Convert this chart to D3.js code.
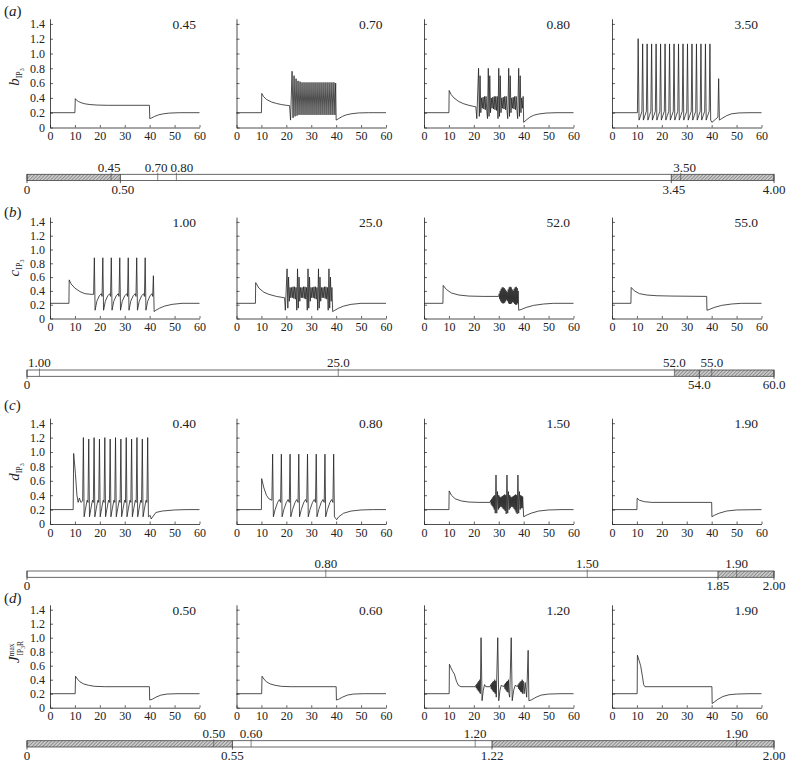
<!DOCTYPE html>
<html><head><meta charset="utf-8">
<script src="https://cdn.jsdelivr.net/npm/d3@7/dist/d3.min.js"></script>
<style>
body{margin:0;background:#fff}
text{font-family:"Liberation Serif","Times New Roman",Times,serif;fill:#222}
</style>
</head><body>
<svg id="chart" width="788" height="764"></svg>
<script>
// ---------- DATA ----------
const panelLetters = ["a","b","c","d"];
const paramLetters = ["b","c","d","J"];
const paramValues = [["0.45","0.70","0.80","3.50"],["1.00","25.0","52.0","55.0"],["0.40","0.80","1.50","1.90"],["0.50","0.60","1.20","1.90"]];
const xTicks = [0,10,20,30,40,50,60];
const yTicks = [0,0.2,0.4,0.6,0.8,1.0,1.2,1.4];
const yTickLabels = ["0","0.2","0.4","0.6","0.8","1.0","1.2","1.4"];

// range bars
const rangeDomains = [[0,4],[0,60],[0,2],[0,2]];
const hatchRanges = [[[0,0.5],[3.45,4]],[[52,60]],[[1.85,2]],[[0,0.55],[1.245,2]]];
const testedValues = [[0.45,0.70,0.80,3.50],[1.00,25.0,52.0,55.0],[0.80,1.50,1.90],[0.50,0.60,1.20,1.90]];
const testedLabels = [["0.45","0.70","0.80","3.50"],["1.00","25.0","52.0","55.0"],["0.80","1.50","1.90"],["0.50","0.60","1.20","1.90"]];
const boundValues = [[0,0.5,3.45,4],[0,54,60],[0,1.85,2],[0,0.55,1.245,2]];
const boundLabels = [["0","0.50","3.45","4.00"],["0","54.0","60.0"],["0","1.85","2.00"],["0","0.55","1.22","2.00"]];

// traces [t, value]
const trA1 = [[0,0.2],[10,0.2],[10.15,0.39],[10.6,0.37],[11.5,0.35],[12.5,0.335],[14,0.32],[16,0.31],[19,0.303],[23,0.3],[39.9,0.3],[40.05,0.12],[40.8,0.13],[42,0.15],[43.5,0.17],[45.5,0.185],[48,0.195],[52,0.2],[60,0.2]];
const trA2 = [[0,0.2],[10,0.2],[10.15,0.46],[10.8,0.42],[12,0.38],[14,0.345],[16,0.325],[18,0.31],[20,0.3],[21.3,0.295],[21.7,0.1],[22.3,0.76],[22.7,0.13],[23.1,0.7],[23.5,0.15],[23.9,0.66],[24.3,0.16],[24.7,0.63],[25.1,0.17],[25.5,0.62],[25.9,0.17],[26.3,0.61],[26.7,0.17],[27.1,0.61],[27.5,0.17],[27.9,0.61],[28.3,0.17],[28.7,0.61],[29.1,0.17],[29.5,0.61],[29.9,0.17],[30.3,0.61],[30.7,0.17],[31.1,0.61],[31.5,0.17],[31.9,0.61],[32.3,0.17],[32.7,0.61],[33.1,0.17],[33.5,0.61],[33.9,0.17],[34.3,0.61],[34.7,0.17],[35.1,0.61],[35.5,0.17],[35.9,0.61],[36.3,0.17],[36.7,0.61],[37.1,0.17],[37.5,0.61],[37.9,0.17],[38.3,0.61],[38.7,0.17],[39.1,0.61],[39.5,0.17],[39.8,0.6],[40.0,0.1],[41,0.12],[42.5,0.15],[44,0.17],[46,0.185],[49,0.197],[53,0.2],[60,0.2]];
const trA3 = [[0,0.2],[10,0.2],[10.1,0.5],[10.8,0.45],[12,0.4],[14,0.35],[16,0.32],[18,0.3],[20,0.285],[20.8,0.28],[21.2,0.12],[21.9,0.8],[22.2,0.15],[22.5,0.7],[22.8,0.2],[23.1,0.4],[23.4,0.26],[23.7,0.41],[24.0,0.25],[24.3,0.42],[24.6,0.24],[24.9,0.42],[25.2,0.22],[25.5,0.12],[25.8,0.8],[26.1,0.15],[26.4,0.7],[26.7,0.2],[27.0,0.4],[27.3,0.26],[27.6,0.41],[27.9,0.25],[28.2,0.42],[28.5,0.24],[28.8,0.42],[29.1,0.23],[29.4,0.42],[29.7,0.12],[30.0,0.8],[30.3,0.15],[30.6,0.7],[30.9,0.2],[31.2,0.4],[31.5,0.26],[31.8,0.41],[32.1,0.25],[32.4,0.42],[32.7,0.24],[33.0,0.42],[33.3,0.23],[33.6,0.12],[34.0,0.8],[34.3,0.15],[34.6,0.7],[34.9,0.2],[35.2,0.4],[35.5,0.26],[35.8,0.41],[36.1,0.25],[36.4,0.42],[36.7,0.24],[37.0,0.42],[37.3,0.23],[37.6,0.12],[38.0,0.8],[38.3,0.15],[38.6,0.7],[38.9,0.2],[39.2,0.4],[39.5,0.26],[39.8,0.42],[40.0,0.07],[41,0.1],[42.5,0.14],[44,0.165],[46,0.182],[49,0.195],[53,0.2],[60,0.2]];
const trA4 = [[0,0.2],[10.2,0.2],[10.5,1.2],[10.85,0.1],[11.4,0.15],[12.0,0.22],[12.3,1.13],[12.6,0.1],[13.2,0.16],[13.8,0.22],[14.1,1.13],[14.4,0.1],[15.0,0.16],[15.6,0.22],[15.9,1.13],[16.2,0.1],[16.8,0.16],[17.4,0.22],[17.7,1.13],[18.0,0.1],[18.6,0.16],[19.2,0.22],[19.5,1.13],[19.8,0.1],[20.4,0.16],[21.0,0.22],[21.3,1.13],[21.6,0.1],[22.2,0.16],[22.8,0.22],[23.1,1.13],[23.4,0.1],[24.0,0.16],[24.6,0.22],[24.9,1.13],[25.2,0.1],[25.8,0.16],[26.4,0.22],[26.7,1.13],[27.0,0.1],[27.6,0.16],[28.2,0.22],[28.5,1.13],[28.8,0.1],[29.4,0.16],[30.0,0.22],[30.3,1.13],[30.6,0.1],[31.2,0.16],[31.8,0.22],[32.1,1.13],[32.4,0.1],[33.0,0.16],[33.6,0.22],[33.9,1.13],[34.2,0.1],[34.8,0.16],[35.4,0.22],[35.7,1.13],[36.0,0.1],[36.6,0.16],[37.2,0.22],[37.5,1.13],[37.8,0.1],[38.4,0.16],[39.0,0.22],[39.3,1.13],[39.6,0.1],[40.1,0.07],[41.5,0.11],[42.5,0.14],[42.8,0.66],[43.1,0.1],[44,0.12],[46,0.16],[48,0.185],[51,0.197],[55,0.2],[60,0.2]];

const trB1 = [[0,0.22],[7.6,0.22],[7.7,0.56],[8.5,0.5],[10,0.44],[12,0.39],[14,0.36],[16.5,0.35],[17.5,0.35],[17.8,0.88],[18.1,0.12],[18.8,0.25],[19.8,0.33],[20.6,0.36],[20.9,0.32],[21.2,0.88],[21.5,0.12],[22.2,0.25],[23.2,0.33],[24.0,0.36],[24.3,0.32],[24.6,0.88],[24.9,0.12],[25.6,0.25],[26.6,0.33],[27.4,0.36],[27.7,0.32],[28.0,0.88],[28.3,0.12],[29.0,0.25],[30.0,0.33],[30.8,0.36],[31.1,0.32],[31.4,0.88],[31.7,0.12],[32.4,0.25],[33.4,0.33],[34.2,0.36],[34.5,0.32],[34.8,0.88],[35.1,0.12],[35.8,0.25],[36.8,0.33],[37.6,0.36],[37.9,0.32],[38.2,0.88],[38.5,0.12],[39.2,0.25],[40.2,0.33],[40.9,0.36],[41.2,0.32],[41.5,0.62],[41.8,0.1],[42.5,0.12],[44,0.15],[46,0.18],[49,0.205],[53,0.22],[60,0.22]];
const trB2 = [[0,0.22],[7.6,0.22],[7.7,0.52],[9,0.44],[11,0.38],[13,0.35],[16,0.32],[19.3,0.3],[19.6,0.12],[20.3,0.72],[20.6,0.15],[20.9,0.6],[21.2,0.25],[21.5,0.45],[21.8,0.3],[22.1,0.45],[22.4,0.3],[22.7,0.46],[23.0,0.29],[23.3,0.46],[23.6,0.28],[23.9,0.45],[24.2,0.12],[24.5,0.72],[24.8,0.15],[25.1,0.6],[25.4,0.25],[25.7,0.45],[26.0,0.3],[26.3,0.45],[26.6,0.3],[26.9,0.46],[27.2,0.29],[27.5,0.46],[27.8,0.28],[28.1,0.45],[28.4,0.12],[28.7,0.72],[29.0,0.15],[29.3,0.6],[29.6,0.25],[29.9,0.45],[30.2,0.3],[30.5,0.45],[30.8,0.3],[31.1,0.46],[31.4,0.29],[31.7,0.46],[32.0,0.28],[32.3,0.45],[32.6,0.12],[32.9,0.72],[33.2,0.15],[33.5,0.6],[33.8,0.25],[34.1,0.45],[34.4,0.3],[34.7,0.45],[35.0,0.3],[35.3,0.46],[35.6,0.29],[35.9,0.46],[36.2,0.28],[36.5,0.45],[36.8,0.12],[37.1,0.72],[37.4,0.15],[37.7,0.6],[38.0,0.25],[38.3,0.45],[38.6,0.1],[39.5,0.12],[41,0.15],[43,0.18],[46,0.205],[50,0.22],[60,0.22]];
const trB3 = [[0,0.22],[7.6,0.22],[7.7,0.48],[9,0.42],[11,0.37],[14,0.34],[18,0.325],[24,0.32],[30,0.32],[30.2,0.36],[30.4,0.28],[30.6,0.4],[30.8,0.25],[31.0,0.43],[31.2,0.23],[31.4,0.45],[31.6,0.22],[31.8,0.45],[32.0,0.22],[32.2,0.44],[32.4,0.23],[32.6,0.42],[32.8,0.25],[33.0,0.4],[33.2,0.27],[33.4,0.38],[33.6,0.25],[33.8,0.42],[34.0,0.22],[34.2,0.45],[34.4,0.21],[34.6,0.46],[34.8,0.21],[35.0,0.45],[35.2,0.22],[35.4,0.42],[35.6,0.24],[35.8,0.4],[36.0,0.23],[36.2,0.43],[36.4,0.21],[36.6,0.45],[36.8,0.2],[37.0,0.46],[37.2,0.2],[37.4,0.44],[37.6,0.22],[37.8,0.4],[38.0,0.12],[39,0.13],[41,0.16],[44,0.19],[48,0.21],[52,0.22],[60,0.22]];
const trB4 = [[0,0.22],[7.6,0.22],[7.7,0.45],[9,0.4],[11,0.36],[14,0.34],[18,0.33],[24,0.325],[38,0.32],[38.1,0.12],[39,0.13],[41,0.16],[44,0.19],[48,0.21],[52,0.22],[60,0.22]];

const trC1 = [[0,0.2],[9.3,0.2],[9.5,0.98],[10.2,0.7],[10.8,0.4],[11.3,0.3],[11.8,0.36],[12.4,0.3],[13.1,0.32],[13.4,1.2],[13.7,0.1],[14.3,0.22],[14.9,0.33],[15.25,0.3],[15.55,1.18],[15.85,0.1],[16.45,0.22],[17.05,0.33],[17.4,0.3],[17.7,1.2],[18.0,0.1],[18.6,0.22],[19.2,0.33],[19.55,0.3],[19.85,1.18],[20.15,0.1],[20.75,0.22],[21.35,0.33],[21.7,0.3],[22.0,1.2],[22.3,0.1],[22.9,0.22],[23.5,0.33],[23.85,0.3],[24.15,1.18],[24.45,0.1],[25.05,0.22],[25.65,0.33],[26.0,0.3],[26.3,1.2],[26.6,0.1],[27.2,0.22],[27.8,0.33],[28.15,0.3],[28.45,1.18],[28.75,0.1],[29.35,0.22],[29.95,0.33],[30.3,0.3],[30.6,1.2],[30.9,0.1],[31.5,0.22],[32.1,0.33],[32.45,0.3],[32.75,1.18],[33.05,0.1],[33.65,0.22],[34.25,0.33],[34.6,0.3],[34.9,1.2],[35.2,0.1],[35.8,0.22],[36.4,0.33],[36.75,0.3],[37.05,1.18],[37.35,0.1],[37.95,0.22],[38.55,0.33],[38.9,0.3],[39.2,1.2],[39.5,0.1],[40.2,0.12],[40.6,0.07],[42.5,0.16],[45,0.18],[50,0.195],[55,0.2],[60,0.2]];
const trC2 = [[0,0.2],[10,0.2],[10.1,0.63],[11,0.5],[12,0.4],[13,0.35],[14.2,0.33],[14.5,0.97],[14.8,0.1],[15.5,0.2],[16.5,0.3],[17.2,0.34],[17.7,0.3],[18.0,0.97],[18.3,0.1],[19.0,0.2],[20.0,0.3],[20.7,0.34],[21.2,0.3],[21.5,0.97],[21.8,0.1],[22.5,0.2],[23.5,0.3],[24.2,0.34],[24.7,0.3],[25.0,0.97],[25.3,0.1],[26.0,0.2],[27.0,0.3],[27.7,0.34],[28.2,0.3],[28.5,0.97],[28.8,0.1],[29.5,0.2],[30.5,0.3],[31.2,0.34],[31.7,0.3],[32.0,0.97],[32.3,0.1],[33.0,0.2],[34.0,0.3],[34.7,0.34],[35.2,0.3],[35.5,0.97],[35.8,0.1],[36.5,0.2],[37.5,0.3],[38.2,0.34],[38.7,0.3],[39.0,0.97],[39.3,0.1],[40.2,0.06],[41,0.1],[43,0.15],[46,0.18],[50,0.195],[55,0.2],[60,0.2]];
const trC3 = [[0,0.2],[10,0.2],[10.1,0.46],[11,0.4],[12.5,0.35],[15,0.32],[18,0.305],[22,0.3],[26.5,0.3],[26.8,0.33],[27.0,0.27],[27.2,0.35],[27.4,0.25],[27.6,0.37],[27.8,0.23],[28.0,0.39],[28.2,0.2],[28.4,0.4],[28.6,0.15],[28.9,0.68],[29.2,0.15],[29.5,0.45],[29.8,0.2],[30.0,0.4],[30.2,0.22],[30.4,0.38],[30.6,0.24],[30.8,0.37],[31.0,0.24],[31.2,0.38],[31.4,0.23],[31.6,0.39],[31.8,0.21],[32.0,0.4],[32.2,0.2],[32.4,0.41],[32.6,0.18],[32.8,0.4],[33.0,0.14],[33.3,0.68],[33.6,0.15],[33.9,0.45],[34.2,0.2],[34.4,0.4],[34.6,0.22],[34.8,0.38],[35.0,0.24],[35.2,0.37],[35.4,0.24],[35.6,0.38],[35.8,0.23],[36.0,0.39],[36.2,0.21],[36.4,0.4],[36.6,0.19],[36.8,0.41],[37.0,0.16],[37.2,0.4],[37.4,0.14],[37.7,0.68],[38.0,0.15],[38.3,0.45],[38.6,0.2],[38.8,0.4],[39.0,0.22],[39.2,0.39],[39.4,0.22],[39.6,0.38],[39.8,0.24],[40.0,0.1],[41,0.12],[43,0.15],[46,0.18],[50,0.195],[55,0.2],[60,0.2]];
const trC4 = [[0,0.2],[10,0.2],[10.1,0.36],[11,0.33],[13,0.31],[16,0.3],[40,0.3],[40.1,0.1],[41,0.12],[43,0.15],[46,0.18],[50,0.195],[60,0.2]];

const trD1 = [[0,0.2],[10.1,0.2],[10.25,0.45],[11,0.41],[12,0.37],[13.5,0.34],[15.5,0.32],[18,0.305],[22,0.3],[39.9,0.3],[40.0,0.11],[41,0.12],[42.5,0.15],[44.5,0.18],[47,0.195],[51,0.2],[60,0.2]];
const trD2 = [[0,0.2],[10.1,0.2],[10.25,0.45],[11,0.41],[12,0.37],[13.5,0.34],[15.5,0.32],[18,0.305],[22,0.3],[40.0,0.3],[40.1,0.11],[41,0.12],[42.5,0.15],[44.5,0.18],[47,0.195],[51,0.2],[60,0.2]];
const trD3 = [[0,0.2],[10.1,0.2],[10.2,0.62],[10.8,0.57],[11.5,0.52],[12.2,0.48],[13,0.38],[13.8,0.32],[14.8,0.3],[20.5,0.3],[20.8,0.32],[21.0,0.28],[21.2,0.34],[21.4,0.26],[21.6,0.36],[21.8,0.24],[22.0,0.38],[22.2,0.22],[22.4,0.4],[22.6,0.2],[22.9,1.0],[23.3,0.1],[23.8,0.25],[24.3,0.33],[24.8,0.3],[26.5,0.3],[26.8,0.33],[27.0,0.27],[27.2,0.35],[27.4,0.25],[27.6,0.37],[27.8,0.23],[28.0,0.38],[28.2,0.22],[28.4,0.4],[28.6,0.2],[28.8,0.38],[29.0,0.15],[29.6,1.0],[30.0,0.1],[30.5,0.25],[31.0,0.32],[32.0,0.3],[32.3,0.33],[32.5,0.27],[32.7,0.35],[32.9,0.25],[33.1,0.37],[33.3,0.23],[33.5,0.38],[33.7,0.22],[33.9,0.4],[34.1,0.2],[34.4,0.15],[35.0,1.0],[35.4,0.1],[36.0,0.25],[36.6,0.32],[37.5,0.3],[37.8,0.33],[38.0,0.27],[38.2,0.35],[38.4,0.25],[38.6,0.37],[38.8,0.23],[39.0,0.38],[39.2,0.22],[39.4,0.4],[39.6,0.2],[39.8,0.38],[40.2,0.2],[40.6,0.36],[41.2,0.15],[41.8,0.82],[42.1,0.1],[43,0.11],[45,0.15],[47,0.18],[50,0.195],[55,0.2],[60,0.2]];
const trD4 = [[0,0.2],[10.1,0.2],[10.2,0.75],[10.8,0.68],[11.5,0.6],[12.2,0.45],[12.7,0.33],[13.2,0.3],[40.1,0.3],[40.2,0.06],[41,0.08],[42.5,0.12],[44.5,0.16],[47,0.185],[50,0.195],[55,0.2],[60,0.2]];

const traces = [[trA1,trA2,trA3,trA4],[trB1,trB2,trB3,trB4],[trC1,trC2,trC3,trC4],[trD1,trD2,trD3,trD4]];

// ---------- LAYOUT ----------
const svg = d3.select("#chart");
const ink = "#222";
const fontFam = '"Liberation Serif","Times New Roman",Times,serif';
const colX = [50, 236.5, 424, 612];
const plotW = 149.5;
const rowGeom = [
  {y0:127.5, ppu:74, label:11, title:77},
  {y0:318.5, ppu:69, label:212, title:268},
  {y0:524, ppu:72, label:405, title:472},
  {y0:707.7, ppu:70, label:598, title:652}
];
const barTops = [174.3, 370, 571, 740.7];
const barH = 6.3, barX0 = 27, barX1 = 774;
// horizontal nudges of bar labels (layout only)
const testedDx = [[-2,-1.5,5.5,4],[0,0,0,0],[0,0,0],[0,0,0,0]];
const boundDx = [[0,2.5,2.5,0],[0,0,0],[0,0,0],[0,0,0,0]];

const defs = svg.append("defs");
const pat = defs.append("pattern").attr("id","hatch").attr("patternUnits","userSpaceOnUse")
  .attr("width",2.5).attr("height",2.5).attr("patternTransform","rotate(45)");
pat.append("rect").attr("width",2.5).attr("height",2.5).attr("fill","#d0d0d0");
pat.append("line").attr("x1",0.5).attr("y1",0).attr("x2",0.5).attr("y2",2.5).attr("stroke","#8a8a8a").attr("stroke-width",1);

const lineGen = d3.line();

rowGeom.forEach((rg, r) => {
  const yTop = 1.47;
  const y = d3.scaleLinear().domain([0, yTop]).range([rg.y0, rg.y0 - yTop*rg.ppu]);
  const pl = svg.append("text").attr("x",4).attr("y",rg.label+5).style("font-size","15px");
  pl.append("tspan").text("(");
  pl.append("tspan").style("font-style","italic").text(panelLetters[r]);
  pl.append("tspan").text(")");
  const tt = svg.append("text").attr("transform",`translate(19,${rg.title}) rotate(-90)`)
    .attr("text-anchor","middle").style("font-size","15px");
  if (paramLetters[r] === "J") {
    tt.append("tspan").style("font-style","italic").text("J");
    tt.append("tspan").attr("dy",-5).style("font-size","7.5px").text("max");
    tt.append("tspan").attr("dx",-12).attr("dy",9).style("font-size","7.5px").text("IP");
    tt.append("tspan").attr("dy",2).style("font-size","5.5px").text("3");
    tt.append("tspan").attr("dy",-2).style("font-size","7.5px").text("R");
  } else {
    tt.append("tspan").style("font-style","italic").text(paramLetters[r]);
    tt.append("tspan").attr("dy",3).style("font-size","8px").text("IP");
    tt.append("tspan").attr("dy",2).style("font-size","6px").text("3");
  }

  colX.forEach((x0, c) => {
    const x = d3.scaleLinear().domain([0,60]).range([x0, x0+plotW]);
    const g = svg.append("g");
    const ya = d3.axisLeft(y).tickValues(yTicks).tickSize(-3).tickSizeOuter(0).tickPadding(5)
      .tickFormat((d,i) => c === 0 ? yTickLabels[i] : "");
    const gy = g.append("g").attr("transform",`translate(${x0},0)`).call(ya);
    const xa = d3.axisBottom(x).tickValues(xTicks).tickSize(-2.5).tickSizeOuter(0).tickPadding(4);
    const gx = g.append("g").attr("transform",`translate(0,${rg.y0})`).call(xa);
    [gy,gx].forEach(a => {
      a.attr("font-family", fontFam);
      a.select(".domain").attr("stroke",ink).attr("stroke-width",0.8);
      a.selectAll(".tick line").attr("stroke",ink).attr("stroke-width",0.7);
      a.selectAll(".tick text").attr("fill",ink).style("font-size","12px")
        .style("font-family",fontFam);
    });
    g.append("path").datum(traces[r][c])
      .attr("d", lineGen.x(d => x(d[0])).y(d => y(d[1])))
      .attr("fill","none").attr("stroke",ink).attr("stroke-width",0.8).attr("stroke-linejoin","round");
    g.append("text").attr("x", x0+146).attr("y", y(1.4)+5).attr("text-anchor","end")
      .style("font-size","13.5px").text(paramValues[r][c]);
  });

  const s = d3.scaleLinear().domain(rangeDomains[r]).range([barX0, barX1]);
  const top = barTops[r];
  const gb = svg.append("g");
  gb.append("rect").attr("x",barX0).attr("y",top).attr("width",barX1-barX0).attr("height",barH)
    .attr("fill","#fff");
  hatchRanges[r].forEach(([a,b]) => {
    gb.append("rect").attr("x",s(a)).attr("y",top).attr("width",s(b)-s(a)).attr("height",barH)
      .attr("fill","url(#hatch)");
  });
  gb.append("rect").attr("x",barX0).attr("y",top).attr("width",barX1-barX0).attr("height",barH)
    .attr("fill","none").attr("stroke","#444").attr("stroke-width",0.8);
  testedValues[r].forEach((v,i) => {
    gb.append("line").attr("x1",s(v)).attr("x2",s(v)).attr("y1",top-1.5).attr("y2",top+barH)
      .attr("stroke","#555").attr("stroke-width",0.7);
    gb.append("text").attr("x",s(v)+testedDx[r][i]).attr("y",top-2.8).attr("text-anchor","middle")
      .style("font-size","13px").text(testedLabels[r][i]);
  });
  boundValues[r].forEach((v,i) => {
    gb.append("line").attr("x1",s(v)).attr("x2",s(v)).attr("y1",top).attr("y2",top+barH+2.5)
      .attr("stroke","#333").attr("stroke-width",0.8);
    gb.append("text").attr("x",s(v)+boundDx[r][i]).attr("y",top+barH+13).attr("text-anchor","middle")
      .style("font-size","13px").text(boundLabels[r][i]);
  });
});
</script>
</body></html>
